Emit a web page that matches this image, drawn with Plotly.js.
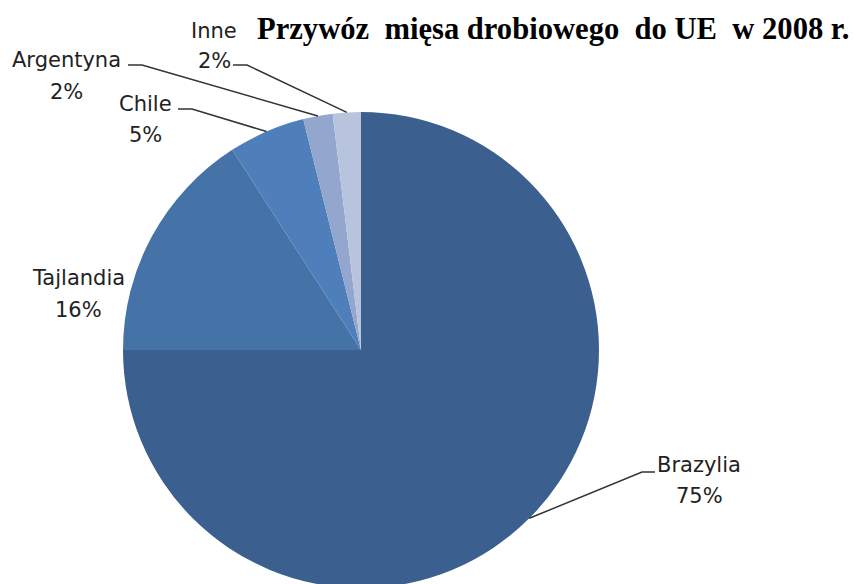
<!DOCTYPE html>
<html>
<head>
<meta charset="utf-8">
<script src="https://cdn.plot.ly/plotly-3.0.1.min.js"></script>
<style>
html, body { margin:0; padding:0; overflow:hidden; background:#fff; }
#chart { width:855px; height:620px; }
</style>
</head>
<body>
<div id="chart"></div>
<script>
// ---- data ----
const categories = ["Brazylia", "Tajlandia", "Chile", "Argentyna", "Inne"];
const shares = [75, 15.9, 5.2, 2.0, 1.9];
const colors = ["#3B5F8E", "#4572A7", "#4F7FBA", "#93A7CE", "#B8C4DE"];
const chartTitle = "Przywóz&nbsp; mięsa drobiowego&nbsp; do UE&nbsp; w 2008 r.";

// ---- layout constants (pixels) ----
const W = 855, H = 620;
const CX = 361, CY = 350, R = 238;
// label centres: [name x, name y, pct y]
const labelPos = {
  "Brazylia":  [699, 465, 496],
  "Tajlandia": [78, 278, 310],
  "Chile":     [145, 104, 135],
  "Argentyna": [66, 60, 92],
  "Inne":      [214, 31, 61]
};
// leader lines: [elbow x, elbow y, end x] (horizontal segment from elbow to end x)
const leaders = {
  "Brazylia":  [642, 472, 655],
  "Chile":     [192, 109, 178],
  "Argentyna": [142, 65, 128],
  "Inne":      [247, 65, 233]
};

const px = x => x / W;
const py = y => 1 - y / H;

const total = shares.reduce((a, b) => a + b, 0);

const trace = {
  type: "pie",
  labels: categories,
  values: shares,
  sort: false,
  direction: "clockwise",
  rotation: 0,
  textinfo: "none",
  hoverinfo: "label+percent",
  marker: { colors: colors, line: { width: 0 } },
  showlegend: false,
  domain: { x: [px(CX - R), px(CX + R)], y: [py(CY + R), py(CY - R)] }
};

const annotations = [];
const shapes = [];
const labelFont = { family: "DejaVu Sans", size: 21, color: "#222222" };
let cum = 0;
categories.forEach((c, i) => {
  const frac = shares[i] / total;
  const mid = (cum + frac / 2) * 2 * Math.PI; // clockwise from 12 o'clock
  cum += frac;
  const lp = labelPos[c];
  annotations.push({ xref: "paper", yref: "paper", x: px(lp[0]), y: py(lp[1]), xanchor: "center", yanchor: "middle",
    text: c, showarrow: false, font: labelFont });
  annotations.push({ xref: "paper", yref: "paper", x: px(lp[0]), y: py(lp[2]), xanchor: "center", yanchor: "middle",
    text: Math.round(frac * 100) + "%", showarrow: false, font: labelFont });
  if (leaders[c]) {
    const ax = CX + R * Math.sin(mid);
    const ay = CY - R * Math.cos(mid);
    const L = leaders[c];
    shapes.push({ type: "path", xref: "paper", yref: "paper",
      path: `M ${px(ax)} ${py(ay)} L ${px(L[0])} ${py(L[1])} L ${px(L[2])} ${py(L[1])}`,
      line: { color: "#333333", width: 1.5 } });
  }
});

const layout = {
  width: W, height: H,
  margin: { l: 0, r: 0, t: 0, b: 0 },
  paper_bgcolor: "#ffffff",
  title: { text: "<b>" + chartTitle + "</b>", x: px(257), xanchor: "left", xref: "paper",
    y: 1 - 28 / H, yref: "container", yanchor: "middle",
    font: { family: "Liberation Serif", size: 30.6, color: "#000000" } },
  annotations: annotations,
  shapes: shapes
};

Plotly.newPlot("chart", [trace], layout, { displayModeBar: false, staticPlot: true });
</script>
</body>
</html>
